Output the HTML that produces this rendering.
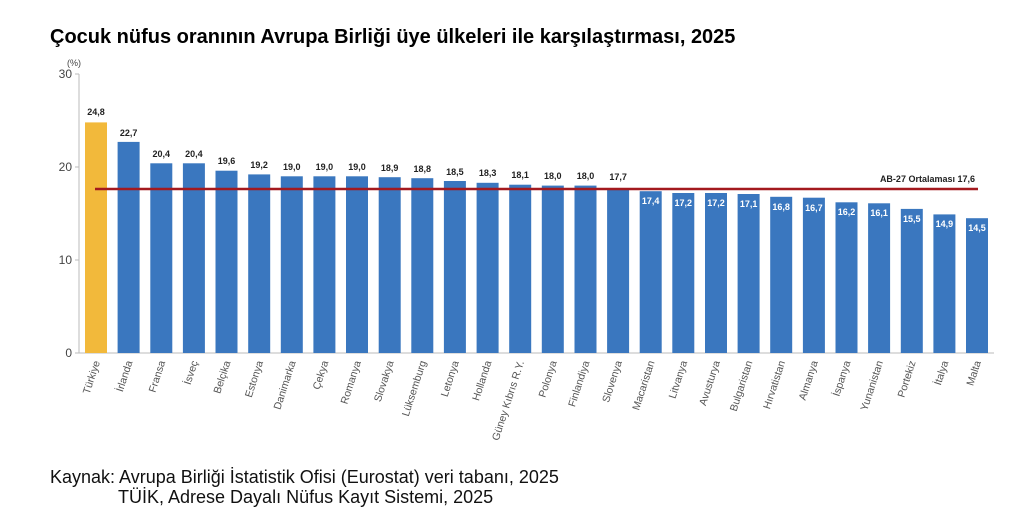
<!DOCTYPE html>
<html><head><meta charset="utf-8"><style>
body{margin:0;background:#fff;width:1024px;height:519px;overflow:hidden;font-family:"Liberation Sans",sans-serif}
</style></head><body>
<svg width="1024" height="519" xmlns="http://www.w3.org/2000/svg" font-family="Liberation Sans, sans-serif">
<text x="50" y="43" font-size="20" font-weight="bold" fill="#000">Çocuk nüfus oranının Avrupa Birliği üye ülkeleri ile karşılaştırması, 2025</text>
<text x="67" y="66" font-size="9" fill="#444">(%)</text>
<g font-size="12" fill="#444" text-anchor="end">
<text x="72" y="78">30</text><text x="72" y="171">20</text><text x="72" y="264">10</text><text x="72" y="357">0</text>
</g>
<line x1="79" y1="74" x2="79" y2="353" stroke="#bbb"/>
<line x1="79" y1="353" x2="994" y2="353" stroke="#bbb"/>
<g stroke="#bbb"><line x1="75" y1="74" x2="79" y2="74"/><line x1="75" y1="167" x2="79" y2="167"/><line x1="75" y1="260" x2="79" y2="260"/><line x1="75" y1="353" x2="79" y2="353"/></g>
<g fill="#3a77bf">
<rect x="85" y="122.4" width="22" height="230.6" fill="#f2b93b"/>
<rect x="117.6" y="141.9" width="22" height="211.1"/>
<rect x="150.3" y="163.3" width="22" height="189.7"/>
<rect x="182.9" y="163.3" width="22" height="189.7"/>
<rect x="215.5" y="170.7" width="22" height="182.3"/>
<rect x="248.2" y="174.4" width="22" height="178.6"/>
<rect x="280.8" y="176.3" width="22" height="176.7"/>
<rect x="313.4" y="176.3" width="22" height="176.7"/>
<rect x="346" y="176.3" width="22" height="176.7"/>
<rect x="378.7" y="177.2" width="22" height="175.8"/>
<rect x="411.3" y="178.2" width="22" height="174.8"/>
<rect x="443.9" y="181" width="22" height="172"/>
<rect x="476.6" y="182.8" width="22" height="170.2"/>
<rect x="509.2" y="184.7" width="22" height="168.3"/>
<rect x="541.8" y="185.6" width="22" height="167.4"/>
<rect x="574.5" y="185.6" width="22" height="167.4"/>
<rect x="607.1" y="188.4" width="22" height="164.6"/>
<rect x="639.7" y="191.2" width="22" height="161.8"/>
<rect x="672.3" y="193" width="22" height="160"/>
<rect x="705" y="193" width="22" height="160"/>
<rect x="737.6" y="194" width="22" height="159"/>
<rect x="770.2" y="196.8" width="22" height="156.2"/>
<rect x="802.9" y="197.7" width="22" height="155.3"/>
<rect x="835.5" y="202.3" width="22" height="150.7"/>
<rect x="868.1" y="203.3" width="22" height="149.7"/>
<rect x="900.8" y="208.9" width="22" height="144.1"/>
<rect x="933.4" y="214.4" width="22" height="138.6"/>
<rect x="966" y="218.2" width="22" height="134.8"/>
</g>
<line x1="95" y1="189" x2="978" y2="189" stroke="#a3191e" stroke-width="2.5"/>
<text x="975" y="182" font-size="9" font-weight="bold" fill="#222" text-anchor="end">AB-27 Ortalaması  17,6</text>
<g font-size="9" font-weight="bold" fill="#222" text-anchor="middle">
<text x="96" y="115">24,8</text><text x="128.6" y="136">22,7</text><text x="161.3" y="157">20,4</text><text x="193.9" y="157">20,4</text><text x="226.5" y="164">19,6</text><text x="259.2" y="168">19,2</text><text x="291.8" y="170">19,0</text><text x="324.4" y="170">19,0</text><text x="357" y="170">19,0</text><text x="389.7" y="171">18,9</text><text x="422.3" y="172">18,8</text><text x="454.9" y="175">18,5</text><text x="487.6" y="176">18,3</text><text x="520.2" y="178">18,1</text><text x="552.8" y="179">18,0</text><text x="585.5" y="179">18,0</text><text x="618.1" y="180">17,7</text>
</g>
<g font-size="9" font-weight="bold" fill="#fff" text-anchor="middle">
<text x="650.7" y="204">17,4</text><text x="683.3" y="206">17,2</text><text x="716" y="206">17,2</text><text x="748.6" y="207">17,1</text><text x="781.2" y="210">16,8</text><text x="813.9" y="211">16,7</text><text x="846.5" y="215">16,2</text><text x="879.1" y="216">16,1</text><text x="911.8" y="222">15,5</text><text x="944.4" y="227">14,9</text><text x="977" y="231">14,5</text>
</g>
<g font-size="10.5" fill="#555" text-anchor="end">
<text transform="translate(100,362) rotate(-72)">Türkiye</text>
<text transform="translate(132.6,362) rotate(-72)">İrlanda</text>
<text transform="translate(165.3,362) rotate(-72)">Fransa</text>
<text transform="translate(197.9,362) rotate(-72)">İsveç</text>
<text transform="translate(230.5,362) rotate(-72)">Belçika</text>
<text transform="translate(263.2,362) rotate(-72)">Estonya</text>
<text transform="translate(295.8,362) rotate(-72)">Danimarka</text>
<text transform="translate(328.4,362) rotate(-72)">Çekya</text>
<text transform="translate(361,362) rotate(-72)">Romanya</text>
<text transform="translate(393.7,362) rotate(-72)">Slovakya</text>
<text transform="translate(426.3,362) rotate(-72)">Lüksemburg</text>
<text transform="translate(458.9,362) rotate(-72)">Letonya</text>
<text transform="translate(491.6,362) rotate(-72)">Hollanda</text>
<text transform="translate(524.2,362) rotate(-72)">Güney Kıbrıs R.Y.</text>
<text transform="translate(556.8,362) rotate(-72)">Polonya</text>
<text transform="translate(589.5,362) rotate(-72)">Finlandiya</text>
<text transform="translate(622.1,362) rotate(-72)">Slovenya</text>
<text transform="translate(654.7,362) rotate(-72)">Macaristan</text>
<text transform="translate(687.3,362) rotate(-72)">Litvanya</text>
<text transform="translate(720,362) rotate(-72)">Avusturya</text>
<text transform="translate(752.6,362) rotate(-72)">Bulgaristan</text>
<text transform="translate(785.2,362) rotate(-72)">Hırvatistan</text>
<text transform="translate(817.9,362) rotate(-72)">Almanya</text>
<text transform="translate(850.5,362) rotate(-72)">İspanya</text>
<text transform="translate(883.1,362) rotate(-72)">Yunanistan</text>
<text transform="translate(915.8,362) rotate(-72)">Portekiz</text>
<text transform="translate(948.4,362) rotate(-72)">İtalya</text>
<text transform="translate(981,362) rotate(-72)">Malta</text>
</g>
<text x="50" y="483" font-size="18" fill="#111">Kaynak: Avrupa Birliği İstatistik Ofisi (Eurostat) veri tabanı, 2025</text>
<text x="118" y="503" font-size="18" fill="#111">TÜİK, Adrese Dayalı Nüfus Kayıt Sistemi, 2025</text>
</svg>
</body></html>
